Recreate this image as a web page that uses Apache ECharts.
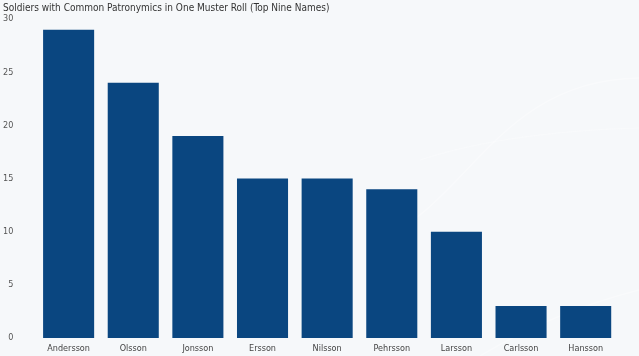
<!DOCTYPE html>
<html><head><meta charset="utf-8">
<script src="https://cdn.jsdelivr.net/npm/echarts@6/dist/echarts.min.js"></script>
<style>html,body{margin:0;padding:0;background:#f6f8fa;}#c{width:639px;height:356px;}</style>
</head><body><div id="c"></div>
<script>
const categories = ['Andersson','Olsson','Jonsson','Ersson','Nilsson','Pehrsson','Larsson','Carlsson','Hansson'];
const counts = [29,24,19,15,15,14,10,3,3];
const yTicks = {min:0, max:30, interval:5};
const font = "'DejaVu Sans Condensed', sans-serif";
const chart = echarts.init(document.getElementById('c'));
chart.setOption({
  backgroundColor:'#f6f8fa',
  animation:false,
  graphic:[
    {type:'bezierCurve',silent:true,z:-10,shape:{x1:380,y1:240,cpx1:470,cpy1:200,cpx2:500,cpy2:80,x2:639,y2:78},style:{fill:null,stroke:'#ffffff',lineWidth:1.5,opacity:0.35}},
    {type:'bezierCurve',silent:true,z:-10,shape:{x1:420,y1:160,cpx1:480,cpy1:140,cpx2:560,cpy2:130,x2:639,y2:128},style:{fill:null,stroke:'#ffffff',lineWidth:1,opacity:0.3}},
    {type:'bezierCurve',silent:true,z:-10,shape:{x1:480,y1:356,cpx1:540,cpy1:320,cpx2:600,cpy2:300,x2:639,y2:290},style:{fill:null,stroke:'#ffffff',lineWidth:1.5,opacity:0.35}}
  ],
  title:{text:'Soldiers with Common Patronymics in One Muster Roll (Top Nine Names)',left:0,top:0,padding:[3,3],
    textStyle:{fontFamily:font,fontSize:10,fontWeight:'normal',color:'#333'}},
  grid:{left:36,right:21,top:19,bottom:18},
  xAxis:{type:'category',data:categories,axisLine:{show:false},axisTick:{show:false},
    axisLabel:{fontFamily:font,fontSize:9,color:'#444',margin:6}},
  yAxis:{type:'value',min:yTicks.min,max:yTicks.max,interval:yTicks.interval,splitLine:{show:false},
    axisLine:{show:false},axisTick:{show:false},
    axisLabel:{fontFamily:font,fontSize:9,color:'#555',margin:23}},
  series:[{type:'bar',data:counts,barCategoryGap:'21%',itemStyle:{color:'#0a4680'}}]
});
</script></body></html>
